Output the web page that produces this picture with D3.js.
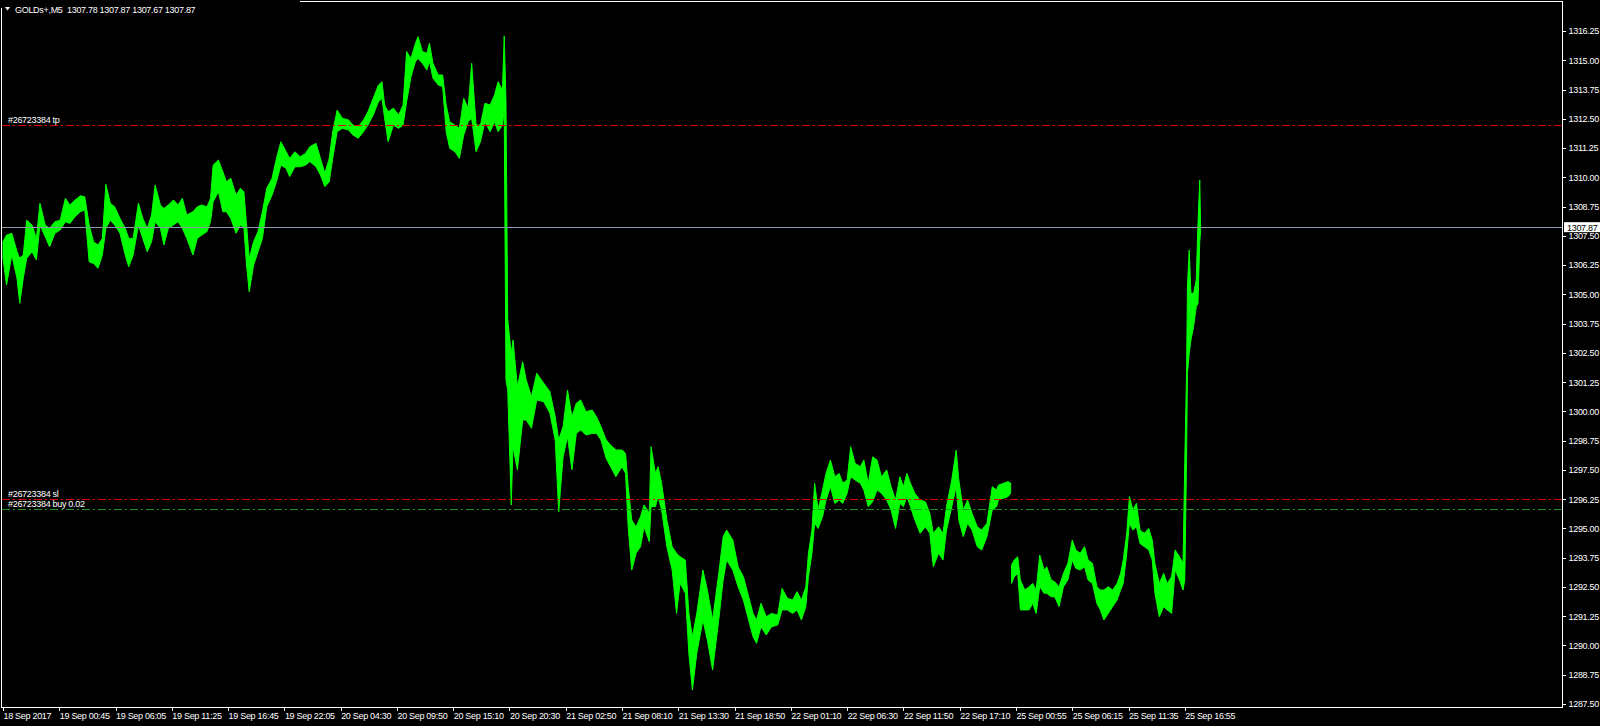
<!DOCTYPE html>
<html><head><meta charset="utf-8">
<script src="https://cdn.jsdelivr.net/npm/d3@7"></script>
<style>
html,body{margin:0;padding:0;background:#000;overflow:hidden;}
svg{display:block;}
text{font-family:"Liberation Sans",Arial,sans-serif;font-size:9px;fill:#fff;letter-spacing:-0.3px;white-space:pre;}
</style></head><body>
<svg id="chart" width="1600" height="726"></svg>
<script>
// ---------------- data ----------------
const symbolTitle = "GOLDs+,M5";
const lastOHLC = [1307.78, 1307.87, 1307.67, 1307.87];

const timeLabels = ["18 Sep 2017","19 Sep 00:45","19 Sep 06:05","19 Sep 11:25","19 Sep 16:45","19 Sep 22:05",
  "20 Sep 04:30","20 Sep 09:50","20 Sep 15:10","20 Sep 20:30","21 Sep 02:50","21 Sep 08:10","21 Sep 13:30",
  "21 Sep 18:50","22 Sep 01:10","22 Sep 06:30","22 Sep 11:50","22 Sep 17:10","25 Sep 00:55","25 Sep 06:15",
  "25 Sep 11:35","25 Sep 16:55"];
const timeLabelBars = [0,64,128,192,256,320,384,448,512,576,640,704,768,832,896,960,1024,1088,1152,1216,1280,1344];

const priceTicks = [1287.50,1288.75,1290.00,1291.25,1292.50,1293.75,1295.00,1296.25,1297.50,1298.75,1300.00,
  1301.25,1302.50,1303.75,1305.00,1306.25,1307.50,1308.75,1310.00,1311.25,1312.50,1313.75,1315.00,1316.25];

// M5 bars (bar number from the left edge), sampled high / low
const barIdx = [
  0,4,10,16,19,23,27,33,38,42,
  48,53,59,65,71,76,82,88,93,98,
  103,108,113,117,122,127,133,139,143,148,
  154,159,164,169,173,179,183,188,194,199,
  204,209,216,221,226,232,236,239,245,250,
  254,259,265,270,274,277,280,285,290,295,
  300,306,311,316,322,326,332,338,344,349,
  356,361,366,371,375,380,386,393,398,404,
  410,415,421,427,431,434,438,444,450,455,
  459,464,469,472,477,482,485,489,495,500,
  504,508,514,519,524,529,533,538,543,548,
  554,559,563,568,570,572,574,
  578,580,585,591,595,601,607,615,622,628,
  632,637,642,647,652,657,663,670,675,680,
  686,691,697,704,708,711,715,720,725,729,
  735,737,742,745,749,755,761,766,770,776,
  780,784,789,796,801,807,814,819,823,830,
  836,842,847,853,857,862,868,874,881,886,
  892,898,903,908,913,916,920,923,927,932,
  936,941,946,951,955,960,964,969,975,979,
  984,989,994,999,1005,1010,1015,1020,1024,1028,
  1032,1037,1043,1049,1054,1058,1064,1069,1073,1079,
  1084,1087,1092,1097,1102,1108,1113,1119,1125,1130,
  1132,1138,1143,1146,
  1147,1150,1154,1157,1162,1167,1171,1175,1179,1184,
  1187,1192,1196,1201,1206,1211,1216,1220,1225,1230,
  1234,1239,1244,1248,1252,1257,1262,1267,1271,1274,
  1278,1281,1285,1289,1293,1298,1303,1307,1310,1315,
  1320,1324,1329,1333,1338,1342,1344,1346,1347,1349,
  1351,1354,1357,1359,1361,1362];
const barHigh = [
  1307.25,1307.53,1307.61,1306.82,1306.54,1306.68,1308.17,1307.96,1307.39,1308.89,
  1307.96,1307.82,1308.10,1308.17,1309.10,1308.82,1309.03,1309.21,1309.17,1307.96,
  1307.25,1307.11,1307.39,1309.70,1308.89,1308.74,1308.25,1307.82,1307.39,1307.39,
  1308.89,1308.25,1307.82,1308.39,1309.67,1308.82,1308.67,1308.82,1309.03,1308.82,
  1309.10,1308.39,1308.53,1308.74,1308.82,1308.74,1309.10,1310.52,1310.74,1310.24,
  1309.81,1309.96,1309.24,1309.53,1309.38,1307.96,1306.54,1307.25,1307.68,1308.53,
  1309.53,1309.96,1310.81,1311.52,1311.09,1310.81,1311.09,1310.88,1311.02,1311.31,
  1311.45,1310.81,1310.17,1310.81,1311.95,1312.87,1312.52,1312.45,1312.23,1312.16,
  1312.45,1312.80,1313.37,1313.94,1314.08,1313.09,1312.80,1312.95,1312.66,1313.09,
  1315.37,1315.08,1315.72,1316.01,1315.37,1315.30,1315.72,1314.87,1314.37,1314.37,
  1313.09,1312.37,1312.23,1312.09,1313.37,1312.95,1314.87,1312.23,1312.23,1313.16,
  1313.09,1313.52,1314.08,1313.73,1316.04,1313.30,1303.90,
  1302.48,1303.05,1301.06,1302.12,1301.34,1300.63,1301.63,1301.20,1300.84,1299.77,
  1298.78,1299.35,1300.91,1299.77,1300.35,1300.49,1299.99,1300.06,1299.77,1299.35,
  1298.78,1298.56,1298.35,1298.35,1298.21,1296.78,1295.36,1295.07,1295.50,1296.00,
  1295.65,1298.49,1297.35,1297.64,1296.93,1295.36,1294.22,1293.94,1293.79,1293.65,
  1291.37,1290.37,1291.37,1293.22,1292.37,1291.09,1293.08,1294.65,1294.93,1294.50,
  1293.36,1292.94,1292.23,1291.37,1291.09,1291.80,1291.23,1291.37,1291.30,1292.44,
  1292.02,1291.94,1292.30,1291.94,1292.51,1293.94,1294.93,1296.93,1295.79,1296.64,
  1297.35,1297.92,1297.21,1297.35,1296.93,1297.07,1298.49,1297.78,1297.64,1297.92,
  1296.93,1298.06,1297.92,1297.21,1297.50,1296.78,1296.21,1297.21,1296.78,1297.35,
  1296.93,1296.50,1296.21,1296.14,1295.65,1294.79,1295.07,1294.79,1295.93,1297.07,
  1298.35,1297.07,1295.79,1296.21,1295.65,1295.07,1294.93,1295.22,1296.78,1296.64,
  1296.85,1296.93,1297.00,1296.93,
  1293.44,1293.65,1293.79,1292.80,1292.37,1292.51,1292.65,1292.37,1293.86,1293.22,
  1293.36,1292.80,1292.72,1292.51,1293.08,1293.51,1294.50,1294.08,1293.94,1294.22,
  1293.65,1293.51,1292.51,1292.37,1292.37,1292.51,1292.37,1292.65,1293.08,1293.65,
  1294.79,1296.36,1295.79,1296.07,1294.93,1294.79,1295.00,1294.50,1293.51,1292.65,
  1293.08,1292.65,1292.94,1294.08,1293.79,1293.51,1297.92,1301.63,1305.33,1306.89,
  1305.04,1305.04,1305.61,1308.04,1309.88,1307.87];
const barLow = [
  1306.54,1305.40,1306.68,1305.68,1304.62,1305.68,1306.54,1306.82,1306.47,1307.96,
  1307.46,1307.03,1307.61,1307.75,1308.10,1308.03,1308.32,1308.53,1308.60,1306.39,
  1306.32,1306.11,1306.68,1307.82,1308.17,1307.96,1307.61,1306.68,1306.18,1306.68,
  1307.96,1307.39,1306.82,1307.25,1308.10,1307.82,1307.11,1307.82,1307.96,1308.10,
  1307.82,1307.39,1306.68,1307.39,1307.53,1307.68,1308.10,1308.96,1309.38,1308.53,
  1308.53,1308.25,1307.61,1307.96,1307.82,1306.25,1305.11,1306.25,1306.82,1307.39,
  1308.74,1309.24,1309.81,1310.52,1310.38,1310.03,1310.45,1310.45,1310.52,1310.67,
  1310.45,1310.10,1309.60,1309.81,1310.81,1311.95,1312.09,1312.02,1311.81,1311.67,
  1311.95,1312.23,1312.66,1313.23,1313.37,1312.52,1311.52,1312.23,1312.09,1312.23,
  1313.23,1314.30,1314.94,1315.08,1314.87,1314.58,1314.94,1314.23,1313.94,1313.87,
  1311.95,1311.24,1311.09,1310.81,1311.81,1312.37,1312.52,1311.09,1311.52,1312.37,
  1311.95,1312.37,1311.95,1312.23,1312.87,1301.34,1300.91,
  1296.00,1298.49,1297.50,1299.63,1299.63,1299.28,1300.49,1300.41,1299.92,1298.77,
  1295.71,1298.06,1298.92,1297.50,1299.06,1299.20,1298.99,1299.06,1299.06,1298.78,
  1297.99,1297.64,1297.21,1297.64,1297.35,1295.07,1293.22,1293.94,1294.22,1295.07,
  1294.43,1295.93,1295.93,1296.36,1295.79,1294.22,1293.22,1291.37,1292.66,1292.23,
  1289.66,1288.10,1289.66,1291.09,1290.23,1288.95,1291.09,1292.80,1293.65,1293.22,
  1292.51,1291.94,1291.23,1290.37,1290.09,1290.80,1290.45,1290.80,1290.87,1291.52,
  1291.52,1291.37,1291.52,1291.09,1291.66,1292.94,1293.94,1295.22,1295.00,1295.50,
  1296.21,1296.78,1296.07,1296.21,1296.07,1296.50,1297.21,1297.07,1296.93,1296.64,
  1295.93,1296.14,1296.64,1296.50,1296.21,1295.79,1295.00,1296.07,1295.93,1296.36,
  1295.93,1295.36,1294.79,1295.07,1294.79,1293.36,1293.94,1293.65,1294.93,1295.93,
  1296.78,1295.36,1294.65,1295.22,1294.93,1294.22,1294.08,1294.65,1295.79,1295.93,
  1296.21,1296.29,1296.36,1296.50,
  1292.65,1292.94,1293.08,1291.52,1291.52,1291.52,1291.80,1291.37,1292.51,1292.23,
  1292.23,1292.08,1292.08,1291.66,1292.51,1292.80,1293.65,1293.30,1293.22,1293.36,
  1292.80,1292.65,1291.80,1291.52,1291.09,1291.37,1291.66,1291.94,1292.37,1292.65,
  1293.94,1295.22,1294.93,1295.07,1294.36,1294.22,1294.08,1293.65,1292.23,1291.23,
  1291.66,1291.52,1291.37,1293.22,1292.80,1292.37,1292.80,1297.92,1301.63,1302.48,
  1303.05,1303.62,1304.47,1304.62,1307.25,1307.67];
const sessionBreaks = [1147];   // weekend: Friday close -> Monday open

const orderTicket = "#26723384";
const orderLineNames = ["tp", "sl", "buy 0.02"];
const orderLinePrices = [1312.22, 1296.25, 1295.84];
const orderLineColors = ["#e00000", "#e00000", "#1f9a1f"];
const bidPrice = 1307.87;

// ---------------- layout ----------------
const svg = d3.select("#chart");
svg.append("rect").attr("width",1600).attr("height",726).attr("fill","#000");

const x = d3.scaleLinear().domain([0, 1344]).range([3, 1184.8]);
const y = d3.scaleLinear().domain([1287.5, 1316.25]).range([704, 31]);
const L = 1.5, R = 1562.5, T = 1.5, B = 707.5;

// series as segments split at session breaks
const pts = barIdx.map((d,i)=>({i:d, h:barHigh[i], l:barLow[i]}));
const cuts = [0, ...sessionBreaks, Infinity];
const segs = [];
for (let k=0;k<cuts.length-1;k++) segs.push(pts.filter(p=>p.i>=cuts[k] && p.i<cuts[k+1]));
const area = d3.area().x(d=>x(d.i)).y0(d=>y(d.l)).y1(d=>y(d.h));
svg.append("g").selectAll("path").data(segs).join("path")
  .attr("d", area).attr("fill","#00ff00").attr("stroke","#00ff00").attr("stroke-width",1)
  .attr("stroke-linejoin","miter");

// bid line
svg.append("line").attr("x1",L).attr("x2",R).attr("y1",Math.round(y(bidPrice))+0.5).attr("y2",Math.round(y(bidPrice))+0.5)
  .attr("stroke","#8c99a8").attr("stroke-width",1);

// order lines
orderLinePrices.forEach((p,i)=>{
  const yy = Math.round(y(p))+0.5;
  svg.append("line").attr("x1",L+0.5).attr("x2",R-1).attr("y1",yy).attr("y2",yy)
    .attr("stroke",orderLineColors[i]).attr("stroke-width",1).attr("stroke-dasharray","8,3,2,3");
  svg.append("text").attr("x",8).attr("y",yy-2.5).text(orderTicket+" "+orderLineNames[i]);
});

// frame
const frame = svg.append("g").attr("stroke","#fff").attr("stroke-width",1).attr("shape-rendering","crispEdges");
frame.append("line").attr("x1",L).attr("x2",L).attr("y1",8).attr("y2",B);
frame.append("line").attr("x1",R).attr("x2",R).attr("y1",T).attr("y2",B);
frame.append("line").attr("x1",300).attr("x2",R).attr("y1",T).attr("y2",T);
frame.append("line").attr("x1",L).attr("x2",R).attr("y1",B).attr("y2",B);

// price axis
const yAxis = d3.axisRight(y).tickValues(priceTicks).tickFormat(d3.format(".2f")).tickSize(3).tickPadding(3);
const gy = svg.append("g").attr("transform",`translate(${R},0)`).call(yAxis);
gy.select(".domain").remove();
gy.selectAll("line").attr("stroke","#fff").attr("shape-rendering","crispEdges");
gy.selectAll("text").attr("fill","#fff").style("font-family",'"Liberation Sans",Arial,sans-serif').style("font-size","9px");
gy.attr("font-size",null).attr("font-family",null);

// bid price label
const by = y(bidPrice);
svg.append("rect").attr("x",1564).attr("y",by-5).attr("width",36).attr("height",10).attr("fill","#fff");
svg.append("text").attr("x",1567).attr("y",by+3.5).style("fill","#000").text(d3.format(".2f")(bidPrice));

// time axis
const xAxis = d3.axisBottom(x).tickValues(timeLabelBars).tickFormat((d,i)=>timeLabels[i]).tickSize(3).tickPadding(2);
const gx = svg.append("g").attr("transform",`translate(0,${B})`).call(xAxis);
gx.select(".domain").remove();
gx.selectAll("line").attr("stroke","#fff").attr("shape-rendering","crispEdges");
gx.selectAll("text").attr("fill","#fff").attr("text-anchor","start").attr("dx","0")
  .style("font-family",'"Liberation Sans",Arial,sans-serif').style("font-size","9px");
gx.attr("font-size",null).attr("font-family",null);

// header
svg.append("path").attr("d","M5,7 L10,7 L7.5,10.5 Z").attr("fill","#fff");
svg.append("text").attr("x",15).attr("y",12.5).text(symbolTitle+"  "+lastOHLC.map(d3.format(".2f")).join(" "));
</script>
</body></html>
